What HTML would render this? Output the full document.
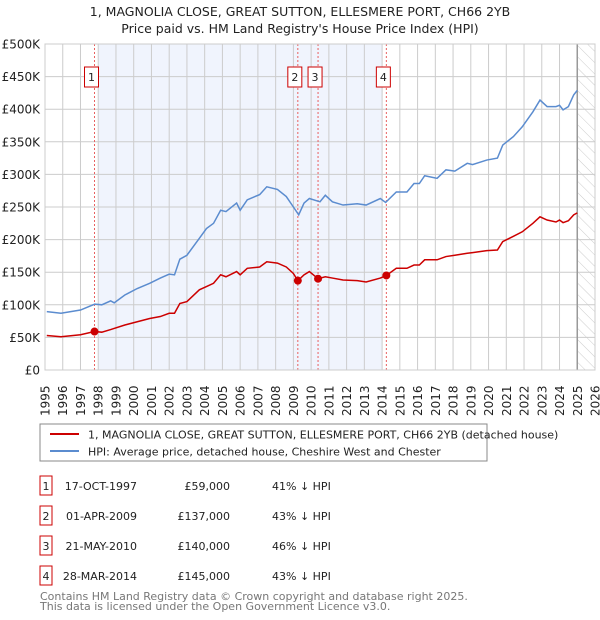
<!DOCTYPE html>
<html><head><meta charset="utf-8"><style>
body{margin:0;background:#fff;width:600px;height:620px;overflow:hidden;font-family:"DejaVu Sans","Liberation Sans",sans-serif;}
svg{position:absolute;left:0;top:0}
</style></head><body>
<svg id="c" width="600" height="620" xmlns="http://www.w3.org/2000/svg">
<defs><pattern id="hatch" width="8" height="8" patternUnits="userSpaceOnUse" patternTransform="rotate(-45)"><line x1="0" y1="0" x2="0" y2="8" stroke="#ccc" stroke-width="1"/></pattern></defs>
<text x="300" y="16" text-anchor="middle" font-size="12.5" fill="#222">1, MAGNOLIA CLOSE, GREAT SUTTON, ELLESMERE PORT, CH66 2YB</text>
<text x="300" y="33" text-anchor="middle" font-size="12.5" fill="#222">Price paid vs. HM Land Registry's House Price Index (HPI)</text>
<g id="plot"></g>
<rect x="40" y="424" width="447" height="37" fill="#fff" stroke="#888"/>
<line x1="50" y1="434" x2="79" y2="434" stroke="#cc0000" stroke-width="2"/>
<text x="88" y="438.5" font-size="11" fill="#222">1, MAGNOLIA CLOSE, GREAT SUTTON, ELLESMERE PORT, CH66 2YB (detached house)</text>
<line x1="50" y1="451" x2="79" y2="451" stroke="#5b8ccf" stroke-width="2"/>
<text x="88" y="455.5" font-size="11" fill="#222">HPI: Average price, detached house, Cheshire West and Chester</text>
<g id="table" font-size="11" fill="#222"></g>
<text x="40" y="600" font-size="11" fill="#777">Contains HM Land Registry data © Crown copyright and database right 2025.</text>
<text x="40" y="610" font-size="11" fill="#777">This data is licensed under the Open Government Licence v3.0.</text>
</svg>
<script>
const hpiYears=[1995.1,1995.9,1997,1997.8,1998.2,1998.7,1998.9,1999.5,2000.2,2000.9,2001.5,2002,2002.3,2002.6,2003,2003.7,2004.1,2004.5,2004.9,2005.2,2005.8,2006,2006.4,2007.1,2007.5,2008.1,2008.6,2009,2009.3,2009.6,2009.9,2010.5,2010.8,2011.2,2011.8,2012.6,2013.1,2013.9,2014.2,2014.8,2015.4,2015.8,2016.1,2016.4,2017.1,2017.6,2018.1,2018.8,2019.1,2019.9,2020.5,2020.8,2021.4,2021.9,2022.5,2022.9,2023.3,2023.8,2024.0,2024.2,2024.5,2024.8,2025.0];
const hpiValues=[89.5,87,92,101,100,106,103,115,125,133,141,147,146,170,176,202,217,225,245,243,256,245,261,269,281,277,266,250,238,256,263,258,268,258,253,255,253,263,257,273,273,286,286,298,294,307,305,317,315,322,325,345,358,373,396,414,404,404,406,399,404,422,429];
const priceYears=[1995.1,1995.9,1997,1997.79,1998.2,1998.7,1999.5,2000.2,2000.9,2001.5,2002,2002.3,2002.6,2003,2003.7,2004.1,2004.5,2004.9,2005.2,2005.8,2006,2006.4,2007.1,2007.5,2008.1,2008.6,2009,2009.25,2009.6,2009.9,2010.39,2010.8,2011.2,2011.8,2012.6,2013.1,2013.9,2014.24,2014.8,2015.4,2015.8,2016.1,2016.4,2017.1,2017.6,2018.1,2018.8,2019.1,2019.9,2020.5,2020.8,2021.4,2021.9,2022.5,2022.9,2023.3,2023.8,2024.0,2024.2,2024.5,2024.8,2025.0];
const priceValues=[53,51,54,59,58,62,69,74,79,82,87,87,102,105,123,128,133,146,143,151,146,156,158,166,164,158,148,137,146,151,140,143,141,138,137,135,141,145,156,156,161,161,169,169,174,176,179,180,183,184,197,205,212,225,235,230,227,230,226,229,238,241];
const saleYears=[1997.79,2009.25,2010.39,2014.24];
const salePrices=[59,137,140,145];
const saleLabels=["1","2","3","4"];
const saleDates=["17-OCT-1997","01-APR-2009","21-MAY-2010","28-MAR-2014"];
const salePriceText=["£59,000","£137,000","£140,000","£145,000"];
const saleHpiText=["41% ↓ HPI","43% ↓ HPI","46% ↓ HPI","43% ↓ HPI"];
const yTicks=[0,50,100,150,200,250,300,350,400,450,500];
const yTickLabels=["£0","£50K","£100K","£150K","£200K","£250K","£300K","£350K","£400K","£450K","£500K"];
const xTicks=[];for(let y=1995;y<=2026;y++)xTicks.push(y);

const NS="http://www.w3.org/2000/svg";
const X0=45,X1=595,Y0=370,Y1=44;
const xs=y=>X0+(y-1995)*(X1-X0)/31;
const ys=v=>Y0-v*(Y0-Y1)/500;
function mk(tag,attrs,parent){const e=document.createElementNS(NS,tag);for(const k in attrs)e.setAttribute(k,attrs[k]);parent.appendChild(e);return e;}
const g=document.getElementById('plot');
let e;
e=mk('rect',{x:xs(1998),y:Y1,width:xs(2014)-xs(1998),height:Y0-Y1,fill:'#f0f4fd'},g);


e=mk('rect',{x:xs(2025),y:Y1,width:X1-xs(2025),height:Y0-Y1,fill:'url(#hatch)'},g);


xTicks.forEach(y=>{
  e=mk('line',{x1:xs(y),x2:xs(y),y1:Y1,y2:Y0,stroke:'#ccc','stroke-width':1},g);
  
  
  e=mk('text',{x:0,y:0,transform:`translate(${xs(y)+4.5},${416}) rotate(-90)`,'font-size':12,fill:'#222'},g);
  e.textContent=y;
  
  
});
yTicks.forEach((v,i)=>{
  e=mk('line',{x1:X0,x2:X1,y1:ys(v),y2:ys(v),stroke:'#ccc','stroke-width':1},g);
  
  
  e=mk('text',{x:40,y:ys(v)+4.5,'text-anchor':'end','font-size':12,fill:'#222'},g);
  e.textContent=yTickLabels[i];
  
  
});
e=mk('line',{x1:xs(2025),x2:xs(2025),y1:Y1,y2:Y0,stroke:'#999','stroke-width':1.5},g);


saleYears.forEach((y,i)=>{
  e=mk('line',{x1:xs(y),x2:xs(y),y1:Y1,y2:Y0,stroke:'#e86060','stroke-width':1,'stroke-dasharray':'2,2'},g);
  
  
  const bx=xs(y)-3;
  e=mk('rect',{x:bx-7,y:67,width:14,height:20,fill:'#fff',stroke:'#cc0000','stroke-width':1},g);
  
  
  e=mk('text',{x:bx,y:81,'text-anchor':'middle','font-size':11,fill:'#222'},g);
  e.textContent=saleLabels[i];
  
  
});
e=mk('polyline',{points:hpiYears.map((y,i)=>xs(y)+','+ys(hpiValues[i])).join(' '),fill:'none',stroke:'#5b8ccf','stroke-width':1.5},g);


e=mk('polyline',{points:priceYears.map((y,i)=>xs(y)+','+ys(priceValues[i])).join(' '),fill:'none',stroke:'#cc0000','stroke-width':1.5},g);


saleYears.forEach((y,i)=>{
  e=mk('circle',{cx:xs(y),cy:ys(salePrices[i]),r:4,fill:'#cc0000'},g);
  
  
});
e=mk('rect',{x:X0,y:Y1,width:X1-X0,height:Y0-Y1,fill:'none',stroke:'#ccc'},g);


const t=document.getElementById('table');
saleLabels.forEach((l,i)=>{
  const ry=476+i*30;
  e=mk('rect',{x:40,y:ry,width:12,height:19,fill:'#fff',stroke:'#cc0000'},t);
  
  
  e=mk('text',{x:46,y:ry+14,'text-anchor':'middle'},t);e.textContent=l;
  
  
  e=mk('text',{x:137,y:ry+14,'text-anchor':'end'},t);e.textContent=saleDates[i];
  
  
  e=mk('text',{x:230,y:ry+14,'text-anchor':'end'},t);e.textContent=salePriceText[i];
  
  
  e=mk('text',{x:272,y:ry+14},t);e.textContent=saleHpiText[i];
  
  
});
</script>
</body></html>
